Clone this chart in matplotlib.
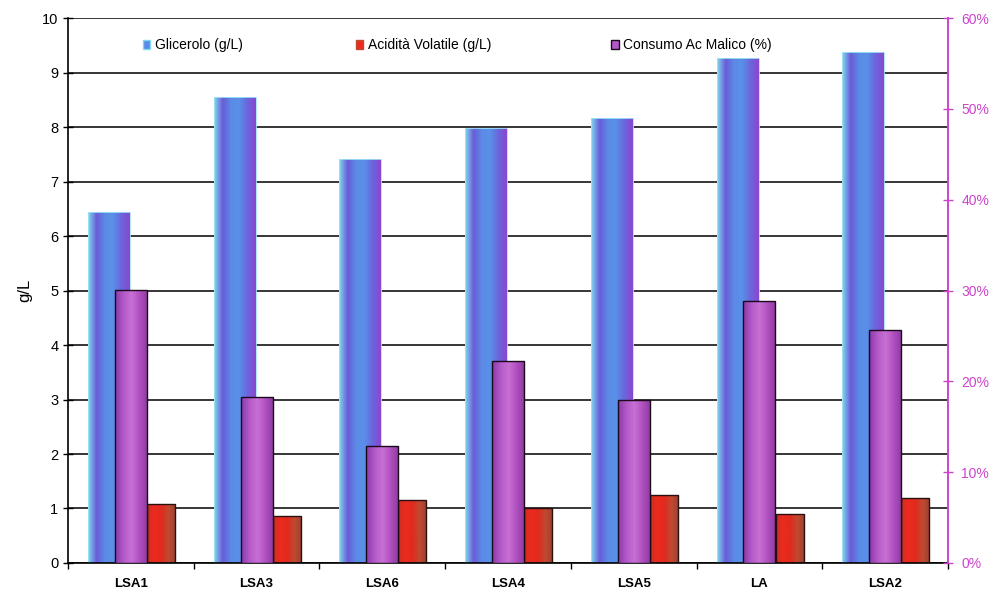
import matplotlib
matplotlib.use("Agg")
import matplotlib.pyplot as plt
import numpy as np
from matplotlib.colors import LinearSegmentedColormap
from matplotlib.legend import Legend
from matplotlib.patches import Patch

plt.rcParams["font.family"] = ["Liberation Sans", "DejaVu Sans"]

ceppi = ["LSA1", "LSA3", "LSA6", "LSA4", "LSA5", "LA", "LSA2"]
glicerolo = [6.44, 8.56, 7.42, 7.98, 8.16, 9.27, 9.38]        # g/L
acidita = [1.08, 0.86, 1.16, 1.00, 1.24, 0.90, 1.20]          # g/L
malico = [30.1, 18.3, 12.9, 22.2, 18.0, 28.8, 25.7]           # %

viola_asse = "#cc44cc"

# sfumature orizzontali delle barre
cm_blu = LinearSegmentedColormap.from_list(
    "blu", ["#7fd8f0", "#6a5ad8", "#5b8be6", "#5a90e8", "#6a66dc", "#8a48d0"])
cm_viola = LinearSegmentedColormap.from_list(
    "viola", ["#8a3aa8", "#b458c8", "#c870d4", "#b050c0", "#8e3aa0"])
cm_rosso = LinearSegmentedColormap.from_list(
    "rosso", ["#c83020", "#ee2a1e", "#e02a1e", "#c04a30", "#9a4030"])


def sfuma(ax, barre, cmap):
    grad = np.linspace(0, 1, 64).reshape(1, -1)
    for b in barre:
        x, w, h = b.get_x(), b.get_width(), b.get_height()
        im = ax.imshow(grad, cmap=cmap, extent=[x, x + w, 0, h],
                       aspect="auto", zorder=b.get_zorder() - 0.01,
                       interpolation="bicubic")
        im.set_clip_path(b)


fig = plt.figure(figsize=(9.9, 5.93), dpi=100)
ax = fig.add_axes([0.0687, 0.0506, 0.8889, 0.919])
ax2 = ax.twinx()

x = np.arange(len(ceppi))

ax.set_axisbelow(True)
ax.yaxis.grid(True, color="black", lw=1.1)
b_gli = ax.bar(x - 0.174, glicerolo, width=0.334, color="none",
               edgecolor="#9fe6f6", lw=0.6, zorder=2)
b_aci = ax.bar(x + 0.24, acidita, width=0.223, color="none",
               edgecolor="#2a1010", lw=1.0, zorder=2)
b_mal = ax2.bar(x, malico, width=0.255, color="none",
                edgecolor="#1a0a1a", lw=1.0, zorder=2)
sfuma(ax, b_gli, cm_blu)
sfuma(ax, b_aci, cm_rosso)
sfuma(ax2, b_mal, cm_viola)

ax.set_xlim(-0.5, len(ceppi) - 0.5)
ax.set_ylim(0, 10)
ax2.set_ylim(0, 60)
ax.set_yticks(range(0, 11))
ax2.set_yticks(range(0, 61, 10))
ax2.set_yticklabels([f"{v}%" for v in range(0, 61, 10)])

ax.set_xticks(x)
ax.set_xticklabels(ceppi, fontweight="bold", fontsize=9.5)
ax.set_xticks(np.arange(-0.5, len(ceppi)), minor=True)
ax.tick_params(axis="x", which="major", length=0, pad=11)
ax.tick_params(axis="x", which="minor", length=4, direction="out", width=1)
ax.tick_params(axis="y", direction="inout", length=7, width=1, labelsize=10.5)
ax2.tick_params(axis="y", direction="inout", length=7, width=1,
                colors=viola_asse, labelsize=10, pad=6)

for a in (ax, ax2):
    a.spines["top"].set_visible(False)
ax.spines["left"].set_linewidth(1.2)
ax.spines["bottom"].set_linewidth(1.2)
ax.spines["right"].set_visible(False)
ax2.spines["left"].set_visible(False)
ax2.spines["bottom"].set_visible(False)
ax2.spines["right"].set_color(viola_asse)
ax2.spines["right"].set_linewidth(1.4)

ax.set_ylabel("g/L", fontsize=12, labelpad=7)

# legenda in alto, tre voci sparse
voci = [
    ("Glicerolo (g/L)", Patch(facecolor="#5a8ae6", edgecolor="#7fd8f0"), 0.085),
    ("Acidità Volatile (g/L)", Patch(facecolor="#ee2a1e", edgecolor="#c04a30"), 0.327),
    ("Consumo Ac Malico (%)", Patch(facecolor="#b458c8", edgecolor="#1a0a1a"), 0.617),
]
for testo, h, xa in voci:
    leg = Legend(ax2, [h], [testo], loc="center left", bbox_to_anchor=(xa, 0.95),
                 frameon=False, handlelength=0.55, handleheight=0.55,
                 handletextpad=0.3, borderpad=0, borderaxespad=0,
                 fontsize=10)
    ax2.add_artist(leg)

fig.savefig("out.png", dpi=100, facecolor="white")
